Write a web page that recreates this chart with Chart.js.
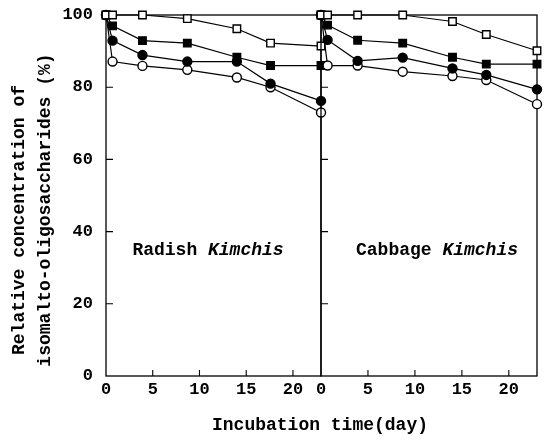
<!DOCTYPE html>
<html>
<head>
<meta charset="utf-8">
<script src="https://cdn.jsdelivr.net/npm/chart.js@4.4.1/dist/chart.umd.min.js"></script>
<style>
  html, body { margin: 0; padding: 0; background: #fff; }
  #wrap { position: relative; width: 548px; height: 440px; overflow: hidden; }
  canvas { position: absolute; left: 0; top: 0; }
  .txt { position: absolute; font-family: "Liberation Mono", monospace; color: #000; white-space: nowrap; font-size: 18px; line-height: 1; font-weight: bold; }
  .rot { transform: translate(-50%, -50%) rotate(-90deg); }
  .ctr { transform: translate(-50%, -50%); }
  .it { font-style: italic; }
</style>
</head>
<body>
<div id="wrap">
  <canvas id="left" width="548" height="440"></canvas>
  <canvas id="right" width="548" height="440"></canvas>
  <div class="txt rot" style="left:19px; top:220px;">Relative concentration of</div>
  <div class="txt rot" style="left:45px; top:210px;">isomalto-oligosaccharides (%)</div>
  <div class="txt ctr" style="left:320px; top:425px;">Incubation time(day)</div>
  <div class="txt ctr" style="left:208px; top:250px;">Radish <span class="it">Kimchis</span></div>
  <div class="txt ctr" style="left:437px; top:250px;">Cabbage <span class="it">Kimchis</span></div>
</div>
<script>
// ---- data ----
const days = [0, 0.7, 3.9, 8.7, 14, 17.6, 23];
const xTickVals = [0, 5, 10, 15, 20];
const yTickVals = [0, 20, 40, 60, 80, 100];

const radishOpenSq     = [100, 100, 100, 99, 96.2, 92.2, 91.4];
const radishFilledSq   = [100, 97, 92.9, 92.2, 88.3, 86, 86];
const radishFilledCirc = [100, 92.9, 88.9, 87.1, 87.1, 81, 76.2];
const radishOpenCirc   = [100, 87.1, 85.9, 84.8, 82.7, 80, 73];

const cabbageOpenSq     = [100, 100, 100, 100, 98.2, 94.6, 90.1];
const cabbageFilledSq   = [100, 97.2, 93, 92.2, 88.3, 86.4, 86.4];
const cabbageFilledCirc = [100, 93.1, 87.3, 88.2, 85.2, 83.4, 79.4];
const cabbageOpenCirc   = [100, 86, 86, 84.3, 83.1, 82, 75.3];

Chart.defaults.font.family = '"Liberation Mono", monospace';
Chart.defaults.font.size = 17;
Chart.defaults.font.weight = 'bold';
Chart.defaults.color = '#000';

function pts(vals) { return days.map((d, i) => ({ x: d, y: vals[i] })); }

function ds(vals, style, filled) {
  return {
    data: pts(vals),
    borderColor: '#000',
    borderWidth: 1.2,
    pointStyle: style,
    pointRadius: style === 'rect' ? 5.3 : 4.5,
    pointBorderWidth: 1.4,
    pointBorderColor: '#000',
    pointBackgroundColor: filled ? '#000' : '#fff',
    fill: false,
    tension: 0,
    clip: false
  };
}

const framePlugin = {
  id: 'frame',
  beforeDatasetsDraw(chart) {
    const ctx = chart.ctx, a = chart.chartArea;
    const xs = chart.scales.x, ys = chart.scales.y;
    ctx.save();
    ctx.strokeStyle = '#000';
    ctx.lineWidth = 1.3;
    ctx.strokeRect(a.left, a.top, a.right - a.left, a.bottom - a.top);
    ctx.lineWidth = 1.1;
    ctx.beginPath();
    yTickVals.slice(1, -1).forEach(v => {
      const y = ys.getPixelForValue(v);
      ctx.moveTo(a.left, y); ctx.lineTo(a.left + 7, y);
    });
    xTickVals.slice(1).forEach(v => {
      const x = xs.getPixelForValue(v);
      ctx.moveTo(x, a.bottom); ctx.lineTo(x, a.bottom - 6);
    });
    ctx.stroke();
    ctx.restore();
  }
};

function makeChart(id, sets, yWidth, showYLabels, padRight) {
  return new Chart(document.getElementById(id), {
    type: 'line',
    data: { datasets: sets },
    plugins: [framePlugin],
    options: {
      responsive: false,
      animation: false,
      layout: { padding: { top: 15, right: padRight, bottom: 0, left: 0 } },
      plugins: { legend: { display: false }, tooltip: { enabled: false } },
      scales: {
        x: {
          type: 'linear', min: 0, max: 23,
          grid: { display: false, drawTicks: false }, border: { display: false },
          ticks: { padding: 4 },
          afterBuildTicks: s => { s.ticks = xTickVals.map(v => ({ value: v })); },
          afterFit: s => { s.height = 64; s.paddingLeft = 0; s.paddingRight = 0; }
        },
        y: {
          type: 'linear', min: 0, max: 100,
          grid: { display: false, drawTicks: false }, border: { display: false },
          ticks: { display: showYLabels, padding: 13 },
          afterBuildTicks: s => { s.ticks = yTickVals.map(v => ({ value: v })); },
          afterFit: s => { s.width = yWidth; s.paddingTop = 0; s.paddingBottom = 0; }
        }
      }
    }
  });
}

makeChart('left', [
  ds(radishOpenSq, 'rect', false),
  ds(radishFilledSq, 'rect', true),
  ds(radishFilledCirc, 'circle', true),
  ds(radishOpenCirc, 'circle', false)
], 106, true, 227);

makeChart('right', [
  ds(cabbageOpenSq, 'rect', false),
  ds(cabbageFilledSq, 'rect', true),
  ds(cabbageFilledCirc, 'circle', true),
  ds(cabbageOpenCirc, 'circle', false)
], 321, false, 11);
</script>
</body>
</html>
